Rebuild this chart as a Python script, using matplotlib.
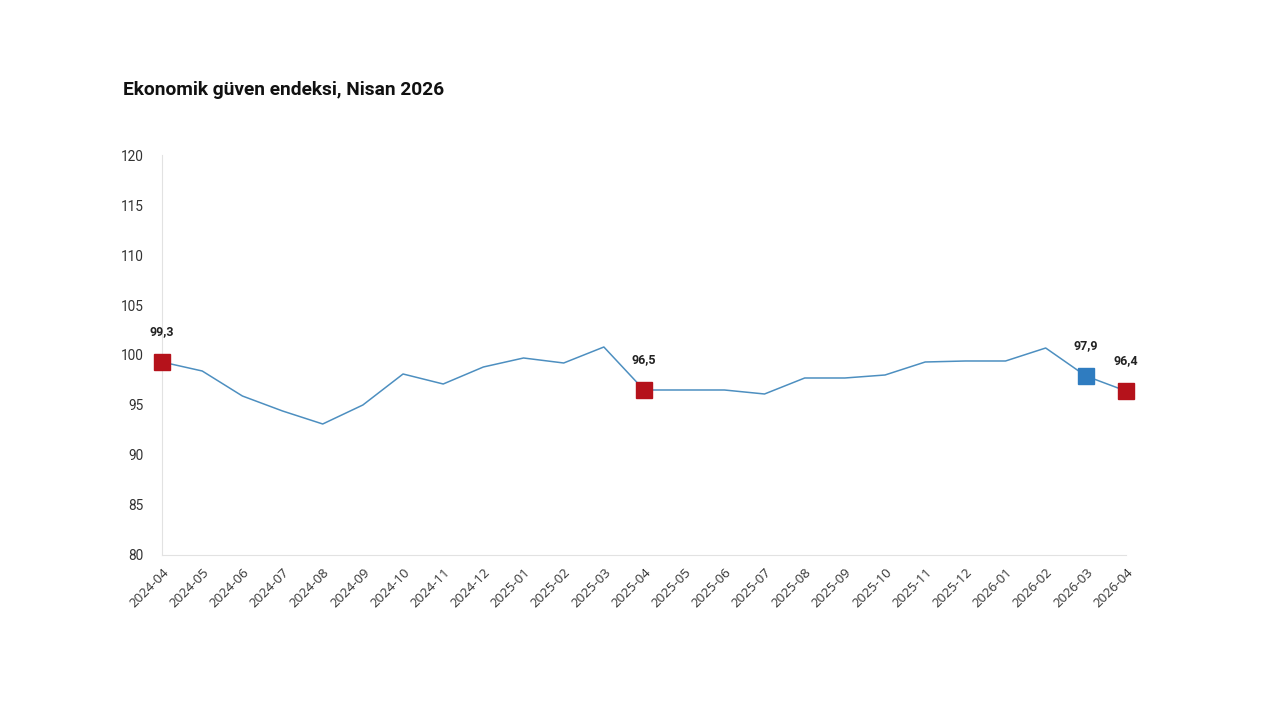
import matplotlib
matplotlib.use("Agg")
import matplotlib.pyplot as plt

months = ["2024-04", "2024-05", "2024-06", "2024-07", "2024-08", "2024-09", "2024-10",
          "2024-11", "2024-12", "2025-01", "2025-02", "2025-03", "2025-04", "2025-05",
          "2025-06", "2025-07", "2025-08", "2025-09", "2025-10", "2025-11", "2025-12",
          "2026-01", "2026-02", "2026-03", "2026-04"]
values = [99.3, 98.4, 95.9, 94.4, 93.1, 95.0, 98.1, 97.1, 98.8, 99.7, 99.2, 100.8,
          96.5, 96.5, 96.5, 96.1, 97.7, 97.7, 98.0, 99.3, 99.4, 99.4, 100.7, 97.9, 96.4]
highlight_red = ["2024-04", "2025-04", "2026-04"]
highlight_blue = ["2026-03"]
yticks = [80, 85, 90, 95, 100, 105, 110, 115, 120]

fig = plt.figure(figsize=(12.8, 7.2), dpi=100)
ax = fig.add_axes([0.1266, 0.2292, 0.7531, 0.5555])

x = list(range(len(months)))
ax.plot(x, values, color="#4d8fc0", linewidth=1.1, zorder=2)

def lab(v):
    return f"{v:.1f}".replace(".", ",")

for m in highlight_red + highlight_blue:
    i = months.index(m)
    col = "#b5121b" if m in highlight_red else "#2f7cc0"
    ax.plot([i], [values[i]], marker="s", markersize=11, color=col,
            markeredgecolor=col, zorder=3, linestyle="none", clip_on=False)
    ax.annotate(lab(values[i]), (i, values[i]), xytext=(0, 17), textcoords="offset points",
                ha="center", va="bottom", fontsize=9, fontweight="bold",
                color="#222222", family=["Roboto", "DejaVu Sans"])

ax.set_xlim(0, len(months) - 1)
ax.set_ylim(80, 120)
ax.set_yticks(yticks)
ax.set_yticklabels([str(t) for t in yticks], family=["Roboto", "DejaVu Sans"],
                   fontsize=9.8, color="#333333")
ax.set_xticks(x)
ax.set_xticklabels(months, rotation=45, ha="right", rotation_mode="anchor",
                   family=["Open Sans", "DejaVu Sans"], fontsize=9.5, color="#333333")
ax.tick_params(axis="both", length=0)
ax.tick_params(axis="y", pad=13)
ax.tick_params(axis="x", pad=8)
for s in ["top", "right"]:
    ax.spines[s].set_visible(False)
ax.spines["left"].set_color("#e2e2e2")
ax.spines["bottom"].set_color("#e2e2e2")

fig.text(123 / 1280, 1 - 90 / 720, "Ekonomik güven endeksi, Nisan 2026", fontsize=13.8,
         fontweight="bold", color="#111111", va="center", ha="left",
         family=["Roboto", "DejaVu Sans"])

fig.savefig("out.png", dpi=100, facecolor="white")
